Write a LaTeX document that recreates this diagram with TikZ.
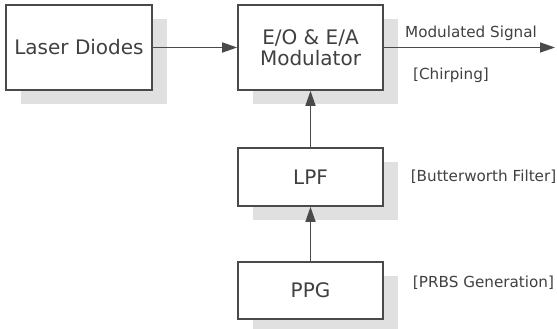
\documentclass[tikz,border=0pt]{standalone}
\usepackage{fontspec}
\setmainfont{DejaVu Sans}
\usetikzlibrary{arrows.meta,shadows}
\definecolor{edgec}{HTML}{4A4A4A}
\definecolor{txtc}{HTML}{404040}
\definecolor{shadc}{HTML}{E0E0E0}
\tikzset{
  blk/.style={draw=edgec, line width=1.6pt, fill=white, text=txtc, inner sep=0pt,
    align=center, font=\fontsize{20}{21.5}\selectfont,
    copy shadow={shadow xshift=15pt, shadow yshift=-14pt, fill=shadc, draw=none}},
  conn/.style={draw=edgec, line width=1.5pt, -{Triangle[length=15pt,width=10pt]}},
  lbl/.style={text=txtc, inner sep=0pt, font=\fontsize{15.2}{17}\selectfont}
}
\begin{document}
\begin{tikzpicture}[x=1pt,y=-1pt]
\useasboundingbox (0,0) rectangle (557,329);
\node[blk, minimum width=146pt, minimum height=85pt] (laser) at (79,47.5) {Laser Diodes};
\node[blk, minimum width=145pt, minimum height=85pt] (mod) at (310.5,47.5) {E/O \& E/A\\Modulator};
\node[blk, minimum width=145pt, minimum height=58pt] (lpf) at (310.5,177) {LPF};
\node[blk, minimum width=145pt, minimum height=57pt] (ppg) at (310.5,290.5) {PPG};
\coordinate (out) at (555,47.5);
\draw[conn] (laser.east) -- (mod.west);
\draw[conn] (mod.east) -- (out);
\draw[conn] (lpf.north) -- (mod.south);
\draw[conn] (ppg.north) -- (lpf.south);
\node[lbl] (ms) at (471,33) {Modulated Signal};
\node[lbl] (ch) at (451,75) {[Chirping]};
\node[lbl] (bf) at (483.5,177) {[Butterworth Filter]};
\node[lbl] (pr) at (483.5,283) {[PRBS Generation]};
\end{tikzpicture}
\end{document}
